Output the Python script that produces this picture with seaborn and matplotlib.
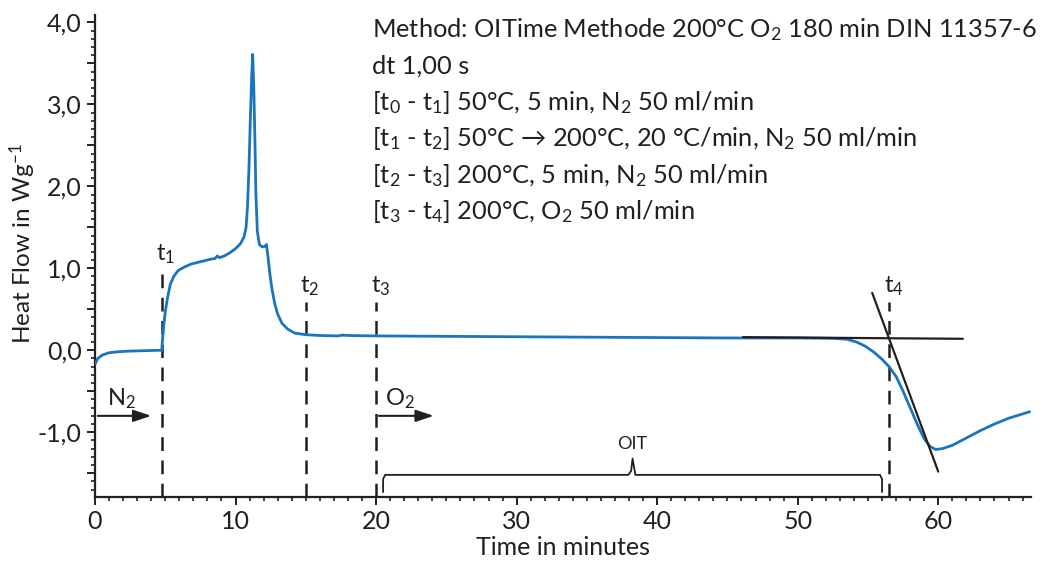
import numpy as np
import pandas as pd
import matplotlib
matplotlib.use("Agg")
import matplotlib.pyplot as plt
import seaborn as sns

# ---- data ----
time_min = [0.0, 0.2, 0.5, 1.0, 1.5, 2.5, 3.5, 4.75, 4.80, 4.9, 5.0, 5.15, 5.35, 5.6, 5.9,
            6.3, 6.8, 7.5, 8.2, 8.55, 8.7, 8.85, 9.2, 9.6, 10.0, 10.35, 10.6, 10.75, 10.85,
            10.95, 11.05, 11.15, 11.22, 11.3, 11.38, 11.45, 11.55, 11.7, 11.9, 12.1, 12.2,
            12.3, 12.45, 12.6, 12.8, 13.0, 13.3, 13.7, 14.2, 15.0, 16.0, 17.3, 17.6, 18.0,
            20.0, 25.0, 30.0, 35.0, 40.0, 45.0, 50.0, 52.5, 53.5, 54.2, 54.8, 55.4, 56.0,
            56.5, 57.0, 57.5, 58.0, 58.5, 59.0, 59.4, 59.8, 60.3, 61.0, 62.0, 63.0, 64.0,
            65.0, 66.5]
heat_flow = [-0.17, -0.10, -0.06, -0.03, -0.02, -0.01, -0.005, 0.0, 0.12, 0.32, 0.47, 0.63,
             0.80, 0.90, 0.97, 1.01, 1.05, 1.08, 1.11, 1.12, 1.15, 1.13, 1.15, 1.19, 1.24,
             1.30, 1.38, 1.50, 1.75, 2.2, 2.8, 3.35, 3.61, 3.2, 2.55, 1.9, 1.45, 1.29, 1.26,
             1.27, 1.29, 1.15, 0.92, 0.74, 0.56, 0.44, 0.33, 0.26, 0.21, 0.19, 0.18, 0.175,
             0.185, 0.18, 0.175, 0.17, 0.165, 0.16, 0.155, 0.15, 0.15, 0.145, 0.135, 0.10,
             0.05, -0.02, -0.11, -0.20, -0.32, -0.50, -0.70, -0.90, -1.08, -1.17, -1.21,
             -1.20, -1.16, -1.07, -0.98, -0.90, -0.83, -0.75]

marker_times = [4.75, 15.0, 20.0, 56.5]
marker_names = ["t$_1$", "t$_2$", "t$_3$", "t$_4$"]
marker_tops = [0.98, 0.59, 0.59, 0.59]

baseline_tangent_t = [46.1, 61.75]
baseline_tangent_v = [0.16, 0.14]
slope_tangent_t = [55.3, 60.0]
slope_tangent_v = [0.70, -1.48]

oit_t = [20.5, 20.5, 20.65, 37.95, 38.15, 38.25, 38.45, 55.85, 56.0, 56.0]
oit_v = [-1.73, -1.57, -1.52, -1.52, -1.47, -1.32, -1.52, -1.52, -1.57, -1.73]

y_ticks = [-1.5, -1.0, -0.5, 0.0, 0.5, 1.0, 1.5, 2.0, 2.5, 3.0, 3.5, 4.0]
y_tick_labels = ["", "-1,0", "", "0,0", "", "1,0", "", "2,0", "", "3,0", "", "4,0"]
x_ticks = [0, 10, 20, 30, 40, 50, 60]
x_tick_labels = ["0", "10", "20", "30", "40", "50", "60"]

info_lines = [
    "Method: OITime Methode 200°C O$_2$ 180 min DIN 11357-6",
    "dt 1,00 s",
    "[t$_0$ - t$_1$] 50°C, 5 min, N$_2$ 50 ml/min",
    "[t$_1$ - t$_2$] 50°C → 200°C, 20 °C/min, N$_2$ 50 ml/min",
    "[t$_2$ - t$_3$] 200°C, 5 min, N$_2$ 50 ml/min",
    "[t$_3$ - t$_4$] 200°C, O$_2$ 50 ml/min",
]

# ---- style ----
sns.set_theme(style="ticks")
plt.rcParams["font.family"] = ["Lato", "DejaVu Sans"]
plt.rcParams["mathtext.fontset"] = "custom"
plt.rcParams["mathtext.rm"] = "Lato"
plt.rcParams["mathtext.it"] = "Lato"
plt.rcParams["mathtext.default"] = "rm"

INK = "#231f20"
BLUE = "#1b75bc"

fig = plt.figure(figsize=(10.48, 5.63), dpi=100)
ax = fig.add_axes([95 / 1048, 66 / 563, (1031 - 95) / 1048, (548 - 66) / 563])

df = pd.DataFrame({"t": time_min, "hf": heat_flow})
sns.lineplot(data=df, x="t", y="hf", ax=ax, color=BLUE, lw=2.0, sort=False,
             estimator=None, zorder=3)

ax.set_xlim(0, 66.6)
ax.set_ylim(-1.79, 4.09)

# dashed markers
for tm, nm, top in zip(marker_times, marker_names, marker_tops):
    ax.plot([tm, tm], [-1.79, top], color=INK, lw=1.8, ls=(0, (5.5, 3.8)), zorder=2,
            clip_on=False)
    ax.text(tm - 0.38, top + 0.12, nm, fontsize=17, color=INK, ha="left", va="baseline")

# tangents
ax.plot(baseline_tangent_t, baseline_tangent_v, color=INK, lw=1.6, zorder=4)
ax.plot(slope_tangent_t, slope_tangent_v, color=INK, lw=1.6, zorder=4)

# OIT brace
ax.plot(oit_t, oit_v, color=INK, lw=1.3, zorder=2)
ax.text(38.2, -1.2, "OIT", fontsize=13, color=INK, ha="center", va="baseline")

# gas arrows
ax.annotate("", xy=(4.2, -0.8), xytext=(0, -0.8),
            arrowprops=dict(arrowstyle="-|>,head_length=0.9,head_width=0.3", color=INK, lw=1.5))
ax.annotate("", xy=(24.3, -0.8), xytext=(20, -0.8),
            arrowprops=dict(arrowstyle="-|>,head_length=0.9,head_width=0.3", color=INK, lw=1.5))
ax.text(0.85, -0.67, "N$_2$", fontsize=17, color=INK, ha="left", va="baseline")
ax.text(20.6, -0.67, "O$_2$", fontsize=17, color=INK, ha="left", va="baseline")

# info text block
for i, line in enumerate(info_lines):
    y_px = 37 + i * 36.4
    fig.text(372 / 1048, 1 - y_px / 563, line, fontsize=18.3, color=INK,
             ha="left", va="baseline")

# axes styling
sns.despine(ax=ax)
for s in ["left", "bottom"]:
    ax.spines[s].set_linewidth(1.6)
    ax.spines[s].set_color(INK)
ax.set_yticks(y_ticks)
ax.set_yticklabels(y_tick_labels)
ax.set_xticks(x_ticks)
ax.set_xticklabels(x_tick_labels)
ax.set_xticks(np.arange(0, 67, 1.0), minor=True)
ax.set_yticks(np.arange(-1.7, 4.05, 0.1), minor=True)
ax.tick_params(axis="both", which="major", length=6, width=1.4, color=INK,
               labelsize=18, labelcolor=INK, direction="out")
ax.tick_params(axis="both", which="minor", length=3, width=1.2, color=INK, direction="out")
ax.set_xlabel("Time in minutes", fontsize=18, color=INK, labelpad=2)
ax.set_ylabel("Heat Flow in Wg$^{-1}$", fontsize=17.5, color=INK)
ax.yaxis.set_label_coords(-0.077, 0.525)
ax.yaxis.label.set_verticalalignment("center")

fig.savefig("out.png", dpi=100)
